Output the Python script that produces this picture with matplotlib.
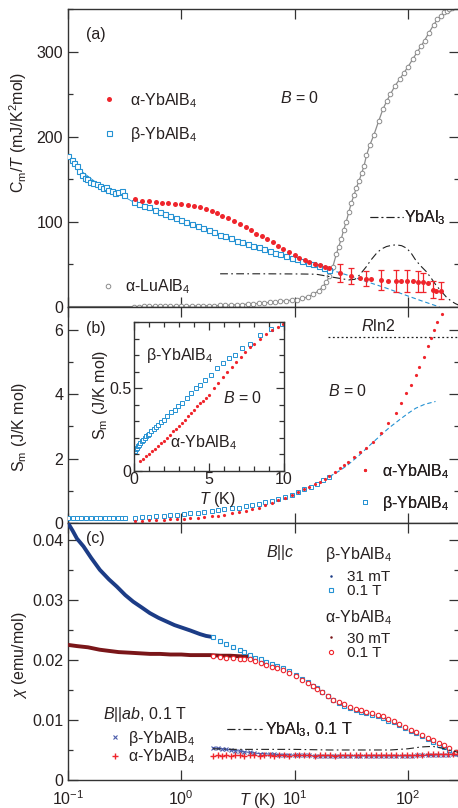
import matplotlib
matplotlib.use("Agg")
import matplotlib.pyplot as plt
from matplotlib.lines import Line2D
from matplotlib.ticker import MultipleLocator, FixedLocator, NullLocator, FuncFormatter

plt.rcParams['font.family'] = ['Liberation Sans', 'DejaVu Sans']
plt.rcParams['mathtext.fontset'] = 'custom'
plt.rcParams['mathtext.rm'] = 'Liberation Sans'
plt.rcParams['mathtext.it'] = 'Liberation Sans:italic'
plt.rcParams['mathtext.bf'] = 'Liberation Sans:bold'

# ---------------- panel (a): Cm/T ----------------
alpha_T_a = [0.39, 0.45, 0.52, 0.6, 0.68, 0.77, 0.88, 1.0, 1.15, 1.3,
             1.45, 1.65, 1.85, 2.05, 2.3, 2.6, 2.9, 3.3, 3.7, 4.1,
             4.6, 5.1, 5.7, 6.4, 7.1, 7.9, 8.9, 10, 11, 12.3,
             13.5, 15, 16.6, 18.4, 20.3]
alpha_C_a = [127, 125, 124, 123, 122.5, 122, 121.5, 120.5, 119.5, 118.5,
             117.5, 115.5, 113, 110, 107, 104, 101, 97, 93.5, 90,
             86, 83, 79.5, 76, 72, 68.5, 64.5, 61, 58, 55,
             53, 51, 49, 47, 45.5]
alpha_T_err = [24.9, 31.6, 37.4, 42.7, 47, 57.7, 66, 78.6, 87, 97.5,
               110, 122, 135, 149, 165, 177, 196]
alpha_C_err = [40, 36.5, 34.5, 33.3, 32.5, 31.8, 31, 30.6, 30.6, 30.6,
               30.6, 29.8, 29, 27.8, 20, 19.2, 19.2]
alpha_dC_err = [11, 9, 0, 9, 0, 12, 0, 13, 0, 13,
                0, 12, 11, 0, 10, 0, 10]

beta_T_low = [0.1006, 0.1078, 0.113, 0.121, 0.126, 0.132, 0.141, 0.148, 0.156, 0.167,
              0.179, 0.191, 0.205, 0.216, 0.226, 0.243, 0.259, 0.277, 0.297, 0.311]
beta_C_low = [177.6, 173, 169, 166, 160, 155, 151, 150, 147, 146,
              145, 142, 140, 141.5, 137.6, 135.7, 133.7, 134.5, 135.7, 131.8]
beta_fit_T = [0.1, 0.13, 0.17, 0.22, 0.3, 0.38]
beta_fit_C = [176, 160, 148, 140, 131, 123]
beta_T_a = [0.38, 0.42, 0.47, 0.52, 0.58, 0.65, 0.72, 0.8, 0.9, 1.0,
            1.1, 1.25, 1.4, 1.55, 1.75, 1.95, 2.2, 2.45, 2.75, 3.1,
            3.45, 3.85, 4.3, 4.8, 5.4, 6.0, 6.7, 7.5, 8.4, 9.4,
            10.5, 11.7, 13.1, 14.6, 16.3, 18.2, 20.3]
beta_C_a = [123, 121, 119, 117, 114, 112, 109, 107, 104, 102,
            100, 97, 95, 93, 90, 88, 85, 83, 80.5, 78,
            76, 74, 72, 70, 68, 66, 64, 62, 60, 58,
            56, 54, 52, 50, 48, 46, 44]
beta_ext_T_a = [20.3, 30, 45, 65, 95, 130, 190]
beta_ext_C_a = [44, 37, 29, 22, 14, 7.5, 0]

lu_T = [0.1, 0.38, 0.42, 0.47, 0.52, 0.58, 0.65, 0.72, 0.8, 0.9,
        1.0, 1.1, 1.25, 1.4, 1.55, 1.75, 1.95, 2.2, 2.45, 2.75,
        3.1, 3.45, 3.85, 4.3, 4.8, 5.4, 6.0, 6.7, 7.5, 8.4,
        9.4, 10.5, 11.7, 13.1, 14.6, 16.3, 17.8, 19, 20.3, 21.7,
        23.3, 24.5, 25.8, 27, 28.5, 30, 31.6, 33.5, 35, 37,
        39, 41, 43, 46, 50, 55, 60, 65, 70, 77,
        85, 92, 100, 110, 120, 130, 140, 153, 168, 182,
        195, 208, 220, 232, 245]
lu_C = [0.5, 0.5, 0.5, 0.6, 0.6, 0.6, 0.7, 0.7, 0.8, 0.8,
        0.9, 1.0, 1.1, 1.2, 1.3, 1.5, 1.6, 1.8, 2.0, 2.3,
        2.6, 2.9, 3.3, 3.7, 4.2, 4.8, 5.4, 6.0, 6.7, 7.4,
        8.0, 8.8, 10, 12, 15, 19, 24, 29, 36, 47,
        62, 71, 80, 90, 100, 111, 122, 132, 140, 148,
        157, 166, 178, 190, 202, 218, 232, 242, 250, 260,
        268, 275, 282, 291, 299, 306, 313, 322, 331, 338,
        342, 346, 348, 350, 351]

ybal3_T_a = [2.2, 5, 11, 15.5, 21.7, 30, 34, 37.4, 42.7, 47,
             52.7, 58, 64.6, 72, 78.6, 88, 97.5, 107, 117, 130,
             145, 160, 176, 195, 217, 240, 262, 282]
ybal3_C_a = [39, 39, 38.8, 38.5, 35, 31.8, 32.5, 37.6, 47, 55,
             63, 68, 71, 72.5, 73, 72, 69, 63, 55, 48,
             41.6, 34, 26, 19, 12, 7, 4, 2]

# ---------------- panel (b): Sm ----------------
alpha_T_b = [0.39, 0.45, 0.52, 0.6, 0.7, 0.8, 0.92, 1.05, 1.2, 1.4,
             1.6, 1.85, 2.1, 2.4, 2.8, 3.2, 3.7, 4.2, 4.8, 5.5,
             6.3, 7.2, 8.2, 9.4, 10.7, 12, 13.5, 15, 16.6, 18.4,
             20.3, 22.5, 24.9, 27, 29.4, 33.5, 37.4, 42.7, 48.9, 57.7,
             66, 78.6, 87, 96.4, 106, 117, 126, 139, 149, 159,
             170, 182, 198]
alpha_S_b = [0.06, 0.07, 0.08, 0.09, 0.10, 0.11, 0.12, 0.13, 0.15, 0.17,
             0.19, 0.21, 0.23, 0.26, 0.3, 0.33, 0.38, 0.42, 0.48, 0.55,
             0.62, 0.71, 0.79, 0.88, 0.97, 1.05, 1.13, 1.2, 1.28, 1.38,
             1.47, 1.58, 1.70, 1.8, 1.90, 2.06, 2.21, 2.32, 2.52, 2.79,
             3.10, 3.41, 3.72, 4.03, 4.29, 4.6, 4.85, 5.16, 5.48, 5.74,
             5.99, 6.25, 6.48]
beta_T_low_b = [0.1, 0.11, 0.12, 0.13, 0.145, 0.16, 0.175, 0.19, 0.21, 0.23,
                0.25, 0.275, 0.3, 0.32]
beta_S_low_b = [0.16, 0.15, 0.16, 0.15, 0.16, 0.15, 0.16, 0.15, 0.16, 0.15,
                0.16, 0.15, 0.16, 0.16]
beta_T_b = [0.39, 0.45, 0.52, 0.6, 0.7, 0.8, 0.92, 1.05, 1.2, 1.4,
            1.6, 1.85, 2.1, 2.4, 2.8, 3.2, 3.7, 4.2, 4.8, 5.5,
            6.3, 7.2, 8.2, 9.4, 10.7, 12.2, 13.8, 15.7, 17.8, 20.3]
beta_S_b = [0.17, 0.19, 0.2, 0.21, 0.23, 0.24, 0.26, 0.28, 0.3, 0.32,
            0.34, 0.37, 0.39, 0.42, 0.45, 0.48, 0.52, 0.56, 0.6, 0.64,
            0.69, 0.75, 0.81, 0.88, 0.95, 1.04, 1.12, 1.22, 1.32, 1.44]
beta_ext_T_b = [20.3, 24.9, 29.4, 37.4, 45, 55.8, 68, 84, 100, 117, 140, 175]
beta_ext_S_b = [1.44, 1.62, 1.8, 2.11, 2.38, 2.68, 2.95, 3.2, 3.4, 3.56, 3.68, 3.77]
rln2_T = [19.5, 282]
rln2_S = 5.76

inset_alpha_T = [0.4, 0.6, 0.8, 1.0, 1.2, 1.4, 1.6, 1.8, 2.0, 2.2,
                 2.4, 2.6, 2.8, 3.0, 3.2, 3.4, 3.6, 3.8, 4.0, 4.2,
                 4.4, 4.6, 4.8, 5.0, 5.3, 5.6, 5.9, 6.2, 6.5, 6.8,
                 7.1, 7.4, 7.7, 8.0, 8.4, 8.8, 9.2, 9.6, 9.95]
inset_alpha_S = [0.06, 0.07, 0.09, 0.10, 0.12, 0.13, 0.15, 0.17, 0.18, 0.20,
                 0.22, 0.24, 0.255, 0.27, 0.29, 0.31, 0.33, 0.35, 0.37, 0.39,
                 0.41, 0.425, 0.44, 0.46, 0.50, 0.53, 0.57, 0.60, 0.63, 0.66,
                 0.69, 0.72, 0.75, 0.77, 0.80, 0.83, 0.85, 0.87, 0.89]
inset_beta_T = [0.07, 0.12, 0.18, 0.25, 0.32, 0.4, 0.5, 0.6, 0.7, 0.8,
                0.9, 1.0, 1.15, 1.3, 1.45, 1.6, 1.8, 2.0, 2.2, 2.45,
                2.7, 2.95, 3.2, 3.5, 3.8, 4.1, 4.4, 4.75, 5.1, 5.5,
                5.9, 6.3, 6.7, 7.2, 7.7, 8.4, 9.1, 9.84]
inset_beta_S = [0.12, 0.13, 0.14, 0.15, 0.16, 0.17, 0.18, 0.19, 0.2, 0.21,
                0.22, 0.225, 0.24, 0.255, 0.265, 0.28, 0.295, 0.31, 0.33, 0.355,
                0.37, 0.39, 0.41, 0.44, 0.47, 0.5, 0.52, 0.55, 0.58, 0.62,
                0.65, 0.68, 0.7, 0.74, 0.77, 0.82, 0.86, 0.89]

# ---------------- panel (c): chi ----------------
beta31_T = [0.1, 0.11, 0.12, 0.137, 0.16, 0.191, 0.23, 0.27, 0.32, 0.376,
            0.45, 0.527, 0.63, 0.74, 0.87, 1.04, 1.2, 1.46, 1.65, 1.9]
beta31_chi = [0.0428, 0.0415, 0.0402, 0.0389, 0.0370, 0.0350, 0.0334, 0.0322, 0.0308, 0.0297,
              0.0287, 0.0278, 0.0270, 0.0264, 0.0258, 0.0253, 0.0249, 0.0243, 0.0240, 0.0238]
alpha30_T = [0.1, 0.12, 0.15, 0.19, 0.23, 0.28, 0.35, 0.43, 0.53, 0.65,
             0.8, 1.0, 1.2, 1.5, 1.8, 2.2, 2.7, 3.3, 3.8]
alpha30_chi = [0.0225, 0.0223, 0.0221, 0.0217, 0.0215, 0.0213, 0.0212, 0.0211, 0.021, 0.021,
               0.0209, 0.0209, 0.0208, 0.0208, 0.0208, 0.0207, 0.0207, 0.0206, 0.0206]
c01_T = [1.9, 2.19, 2.5, 2.86, 3.3, 3.6, 4.0, 4.5, 5.0, 5.6,
         6.3, 7.0, 7.9, 8.9, 10.3, 11.5, 13, 14.5, 15.6, 17.5,
         19.6, 21.7, 24.5, 27.5, 30.5, 34.5, 38.5, 42.7, 48, 54,
         60, 67, 75, 84, 95, 107, 118, 134, 150, 165,
         188, 210, 232, 265, 280]
beta01_chi = [0.0238, 0.0231, 0.0227, 0.0222, 0.0217, 0.0213, 0.0208, 0.0204, 0.0201, 0.0197,
              0.0194, 0.019, 0.0186, 0.0181, 0.0175, 0.0169, 0.0163, 0.0157, 0.0153, 0.0147,
              0.014, 0.0133, 0.0128, 0.0124, 0.012, 0.0116, 0.0113, 0.0111, 0.0108, 0.0106,
              0.0103, 0.0099, 0.0096, 0.0092, 0.0087, 0.0082, 0.0078, 0.0073, 0.0068, 0.0064,
              0.0059, 0.0055, 0.005, 0.0045, 0.0044]
alpha01_chi = [0.0207, 0.0205, 0.0204, 0.0204, 0.0202, 0.0201, 0.0201, 0.0198, 0.0195, 0.0192,
               0.0189, 0.0186, 0.0183, 0.0179, 0.0173, 0.0167, 0.0162, 0.0156, 0.0151, 0.0146,
               0.0140, 0.0134, 0.013, 0.0126, 0.0122, 0.0119, 0.0116, 0.0114, 0.0111, 0.0108,
               0.0106, 0.0102, 0.0099, 0.0094, 0.0089, 0.0084, 0.008, 0.0075, 0.007, 0.0067,
               0.0061, 0.0058, 0.0053, 0.0047, 0.0046]
ab_T = [1.9, 2.1, 2.3, 2.5, 2.75, 3.0, 3.3, 3.6, 4.0, 4.4,
        4.9, 5.4, 6.0, 6.6, 7.3, 8.1, 9.0, 10, 11, 12.2,
        13.5, 15, 16.6, 18.4, 20.4, 22.6, 25, 28, 31, 34.5,
        38, 42.5, 47, 52, 58, 64, 71, 79, 88, 98,
        109, 121, 134, 149, 165, 183, 203, 225, 250, 278]
beta_ab_chi = [0.0054, 0.0053, 0.0052, 0.0051, 0.005, 0.0049, 0.0048, 0.0047, 0.0046, 0.0045,
               0.0044, 0.0044, 0.0043, 0.0043, 0.0042, 0.0042, 0.0042, 0.0041, 0.0041, 0.0041,
               0.0041, 0.004, 0.004, 0.004, 0.004, 0.004, 0.004, 0.004, 0.004, 0.004,
               0.004, 0.004, 0.004, 0.004, 0.004, 0.004, 0.004, 0.004, 0.004, 0.004,
               0.004, 0.0041, 0.0041, 0.0041, 0.0041, 0.0042, 0.0042, 0.0042, 0.0043, 0.0043]
alpha_ab_chi = [0.004, 0.0041, 0.004, 0.0041, 0.004, 0.0041, 0.0041, 0.004, 0.0041, 0.0041,
                0.004, 0.0041, 0.0041, 0.004, 0.0041, 0.0041, 0.004, 0.0041, 0.0041, 0.0041,
                0.0041, 0.004, 0.0041, 0.0041, 0.0041, 0.004, 0.0041, 0.0041, 0.0041, 0.0041,
                0.0041, 0.0041, 0.0041, 0.0041, 0.0042, 0.0041, 0.0041, 0.0042, 0.0042, 0.0042,
                0.0042, 0.0042, 0.0042, 0.0043, 0.0043, 0.0043, 0.0043, 0.0044, 0.0044, 0.0044]
ybal3_T_c = [1.9, 3, 5, 10, 20, 40, 70, 100, 130, 165, 200, 240, 280]
ybal3_chi = [0.0052, 0.0051, 0.0051, 0.0051, 0.005, 0.005, 0.005, 0.0052, 0.0055, 0.0056,
             0.0053, 0.0049, 0.0046]

# ---------------- style ----------------
RED = '#ef252c'
BLUE = '#2592d3'
NAVY = '#1c3c86'
DRED = '#7a1619'
GRAY = '#8c8c8c'
XBLUE = '#4b5cab'
TXT = '#262020'
DASHDOT = (7, 3, 1.5, 3)

W, H = 458, 808
FS = 11.5

fig = plt.figure(figsize=(W / 100, H / 100), dpi=100)


def box(l, t, r, b):
    return [l / W, 1 - b / H, (r - l) / W, (b - t) / H]


def ftext(x, y, s, ha='left', size=FS):
    fig.text(x / W, 1 - y / H, s, ha=ha, va='center', fontsize=size, color=TXT)


def legend_at(ax, handles, labels, mx, my, hl=1.0, htp=0.9, ls=0.5, fs=FS):
    # mx = centre of the handle, my = vertical centre of the block (pixels)
    px = fs * 100 / 72
    left = mx - hl * px / 2
    lg = ax.legend(handles, labels, loc='center left',
                   bbox_to_anchor=(left / W, 1 - my / H),
                   bbox_transform=fig.transFigure, frameon=False,
                   borderpad=0, borderaxespad=0, handlelength=hl,
                   handletextpad=htp, labelspacing=ls, fontsize=fs,
                   labelcolor=TXT, numpoints=1)
    ax.add_artist(lg)


def style(ax, major=7, minor=3.5):
    for sp in ax.spines.values():
        sp.set_linewidth(1.0)
        sp.set_color('#333333')
    ax.tick_params(which='both', direction='in', top=True, right=True,
                   colors='#333333', labelcolor=TXT, labelsize=FS, width=0.9)
    ax.tick_params(which='major', length=major)
    ax.tick_params(which='minor', length=minor)


ax_a = fig.add_axes(box(68, 9, 459, 307))
ax_b = fig.add_axes(box(68, 307, 459, 523))
ax_c = fig.add_axes(box(68, 523, 459, 780))

for ax in (ax_a, ax_b, ax_c):
    ax.set_xscale('log')
    ax.set_xlim(0.1, 282)
    ax.xaxis.set_major_locator(FixedLocator([0.1, 1, 10, 100]))
    ax.xaxis.set_minor_locator(NullLocator())
    style(ax)
ax_a.tick_params(labelbottom=False)
ax_b.tick_params(labelbottom=False)
ax_c.tick_params(axis='x', pad=6.5)

# ---- (a)
ax_a.plot(lu_T, lu_C, '-', color=GRAY, lw=0.9, zorder=2)
ax_a.plot(lu_T[1:], lu_C[1:], 'o', ls='none', mfc='white', mec=GRAY, ms=3.3, mew=0.7, zorder=2)
ax_a.plot(ybal3_T_a, ybal3_C_a, color='#222222', lw=0.8, dashes=DASHDOT, zorder=3)
ax_a.plot(beta_fit_T, beta_fit_C, '-', color=BLUE, lw=0.6, zorder=3)
ax_a.plot(beta_T_low, beta_C_low, 's', mfc='white', mec=BLUE, ms=3.6, mew=0.8, zorder=4)
ax_a.plot(beta_T_a, beta_C_a, 's', mfc='white', mec=BLUE, ms=3.6, mew=0.8, zorder=4)
ax_a.plot(beta_ext_T_a, beta_ext_C_a, '--', color=BLUE, lw=0.8, dashes=(4, 2.5), zorder=3)
ax_a.plot(alpha_T_a, alpha_C_a, 'o', color=RED, ms=3.6, mew=0, zorder=5)
ax_a.plot(alpha_T_err, alpha_C_err, 'o', color=RED, ms=3.6, mew=0, zorder=5)
err_T = [t for t, e in zip(alpha_T_err, alpha_dC_err) if e > 0]
err_C = [c for c, e in zip(alpha_C_err, alpha_dC_err) if e > 0]
err_d = [e for e in alpha_dC_err if e > 0]
ax_a.errorbar(err_T, err_C, yerr=err_d, fmt='none', ecolor=RED, elinewidth=0.9,
              capsize=2.3, capthick=0.9, zorder=5)
ax_a.set_ylim(0, 350)
ax_a.yaxis.set_major_locator(MultipleLocator(100))
ax_a.yaxis.set_minor_locator(MultipleLocator(50))
ax_a.set_ylabel(r'C$_\mathrm{m}$/$T$ (mJ/K$^2$mol)', fontsize=FS, color=TXT)
ax_a.yaxis.set_label_coords(-0.1, 0.584)

ftext(86, 35, '(a)')
ftext(300, 98, r'$B$ = 0', ha='center')
legend_at(ax_a,
          [Line2D([], [], ls='none', marker='o', color=RED, ms=3.6, mew=0),
           Line2D([], [], ls='none', marker='s', mfc='white', mec=BLUE, ms=3.6, mew=0.8)],
          [r'α-YbAlB$_4$', r'β-YbAlB$_4$'], 109, 117.5, hl=1.0, htp=0.81, ls=0.96)
legend_at(ax_a,
          [Line2D([], [], ls='none', marker='o', mfc='white', mec=GRAY, ms=3.3, mew=0.7)],
          [r'α-LuAlB$_4$'], 108, 287, hl=1.0, htp=0.56)
legend_at(ax_a,
          [Line2D([], [], color='#222222', lw=0.8, dashes=DASHDOT)],
          [r'YbAl$_3$'], 386.5, 218, hl=2.06, htp=0.05)

# ---- (b)
ax_b.plot(beta_T_low_b, beta_S_low_b, '-', color=BLUE, lw=0.6, zorder=3)
ax_b.plot(beta_T_low_b, beta_S_low_b, 's', mfc='white', mec=BLUE, ms=2.8, mew=0.7, zorder=3)
ax_b.plot(beta_T_b, beta_S_b, 's', mfc='white', mec=BLUE, ms=2.8, mew=0.7, zorder=3)
ax_b.plot(beta_ext_T_b, beta_ext_S_b, color=BLUE, lw=0.8, dashes=(4, 2.5), zorder=3)
ax_b.plot(alpha_T_b, alpha_S_b, 'o', color=RED, ms=2.3, mew=0, zorder=4)
ax_b.hlines(rln2_S, rln2_T[0], rln2_T[1], colors='#222222', lw=0.9, linestyles=(0, (1.5, 2)))
ax_b.set_ylim(0, 6.7)
ax_b.yaxis.set_major_locator(MultipleLocator(2))
ax_b.yaxis.set_minor_locator(MultipleLocator(1))
ax_b.set_ylabel(r'S$_\mathrm{m}$ (J/K mol)', fontsize=FS, color=TXT)
ax_b.yaxis.set_label_coords(-0.1, 0.444)

ftext(86, 328, '(b)')
ftext(378, 326, r'$R$ln2', ha='center')
ftext(348, 391, r'$B$ = 0', ha='center')
legend_at(ax_b,
          [Line2D([], [], ls='none', marker='o', color=RED, ms=2.3, mew=0),
           Line2D([], [], ls='none', marker='s', mfc='white', mec=BLUE, ms=2.8, mew=0.7)],
          [r'α-YbAlB$_4$', r'β-YbAlB$_4$'], 365, 487.5, hl=1.0, htp=0.56, ls=0.84)

# inset
ax_in = fig.add_axes(box(134, 322, 284, 471))
style(ax_in, major=6, minor=3.5)
ax_in.plot(inset_beta_T, inset_beta_S, 's', mfc='white', mec=BLUE, ms=2.8, mew=0.7)
ax_in.plot(inset_alpha_T, inset_alpha_S, 'o', color=RED, ms=2.3, mew=0)
ax_in.set_xlim(0, 10)
ax_in.set_ylim(0, 0.9)
ax_in.xaxis.set_major_locator(FixedLocator([0, 5, 10]))
ax_in.xaxis.set_minor_locator(MultipleLocator(1))
ax_in.yaxis.set_major_locator(FixedLocator([0, 0.5]))
ax_in.yaxis.set_minor_locator(MultipleLocator(0.1))
ax_in.yaxis.set_major_formatter(FuncFormatter(lambda v, p: f'{v:g}'))
ax_in.tick_params(axis='x', pad=1)
ax_in.tick_params(axis='y', pad=2)
ax_in.set_ylabel(r'S$_\mathrm{m}$ (J/K mol)', fontsize=FS, color=TXT)
ax_in.yaxis.set_label_coords(-0.16, 0.51)
ax_in.set_xlabel(r'$T$ (K)', fontsize=FS, color=TXT)
ax_in.xaxis.set_label_coords(0.553, -0.125)
ftext(146, 356, r'β-YbAlB$_4$')
ftext(243, 398, r'$B$ = 0', ha='center')
ftext(170, 443, r'α-YbAlB$_4$')

# ---- (c)
ax_c.plot(beta31_T, beta31_chi, '-', color=NAVY, lw=2.8, zorder=3)
ax_c.plot(alpha30_T, alpha30_chi, '-', color=DRED, lw=2.8, zorder=3)
ax_c.plot(c01_T, beta01_chi, 's', mfc='white', mec=BLUE, ms=2.8, mew=0.8, zorder=4)
ax_c.plot(c01_T, alpha01_chi, 'o', mfc='white', mec=RED, ms=3.2, mew=0.8, zorder=5)
ax_c.plot(ab_T, beta_ab_chi, 'x', color=XBLUE, ms=3.2, mew=0.8, zorder=4)
ax_c.plot(ab_T, beta_ab_chi, '-', color=XBLUE, lw=0.8, zorder=4)
ax_c.plot(ab_T, alpha_ab_chi, '+', color=RED, ms=4.5, mew=1.0, zorder=5)
ax_c.plot(ybal3_T_c, ybal3_chi, color='#222222', lw=0.8, dashes=DASHDOT, zorder=6)
ax_c.set_ylim(0, 0.0428)
ax_c.yaxis.set_major_locator(MultipleLocator(0.01))
ax_c.yaxis.set_minor_locator(MultipleLocator(0.005))
ax_c.yaxis.set_major_formatter(FuncFormatter(lambda v, p: '0' if abs(v) < 1e-9 else f'{v:g}'))
ax_c.set_ylabel(r'$\chi$ (emu/mol)', fontsize=FS, color=TXT)
ax_c.yaxis.set_label_coords(-0.1, 0.486)
ftext(257, 800, r'$T$ (K)', ha='center')

ftext(86, 538, '(c)')
ftext(280, 553, r'$B$||$c$', ha='center')
ftext(325, 555, r'β-YbAlB$_4$')
legend_at(ax_c,
          [Line2D([], [], ls='none', marker='o', color=NAVY, ms=1.8, mew=0),
           Line2D([], [], ls='none', marker='s', mfc='white', mec=BLUE, ms=2.6, mew=0.8)],
          ['31 mT', '0.1 T'], 331, 584, hl=1.0, htp=0.55, ls=0.0, fs=11)
ftext(325, 618, r'α-YbAlB$_4$')
legend_at(ax_c,
          [Line2D([], [], ls='none', marker='o', color=DRED, ms=1.8, mew=0),
           Line2D([], [], ls='none', marker='o', mfc='white', mec=RED, ms=3.0, mew=0.8)],
          ['30 mT', '0.1 T'], 331, 646, hl=1.0, htp=0.55, ls=0.05, fs=11)
ftext(103, 714, r'$B$||$ab$, 0.1 T')
legend_at(ax_c,
          [Line2D([], [], ls='none', marker='x', color=XBLUE, ms=3.2, mew=0.8),
           Line2D([], [], ls='none', marker='+', color=RED, ms=4.5, mew=1.0)],
          [r'β-YbAlB$_4$', r'α-YbAlB$_4$'], 115, 747.5, hl=1.0, htp=0.31, ls=-0.03)
legend_at(ax_c,
          [Line2D([], [], color='#222222', lw=0.8, dashes=DASHDOT)],
          [r'YbAl$_3$, 0.1 T'], 244.5, 730, hl=2.19, htp=0.19)

fig.savefig('out.png', dpi=100)
